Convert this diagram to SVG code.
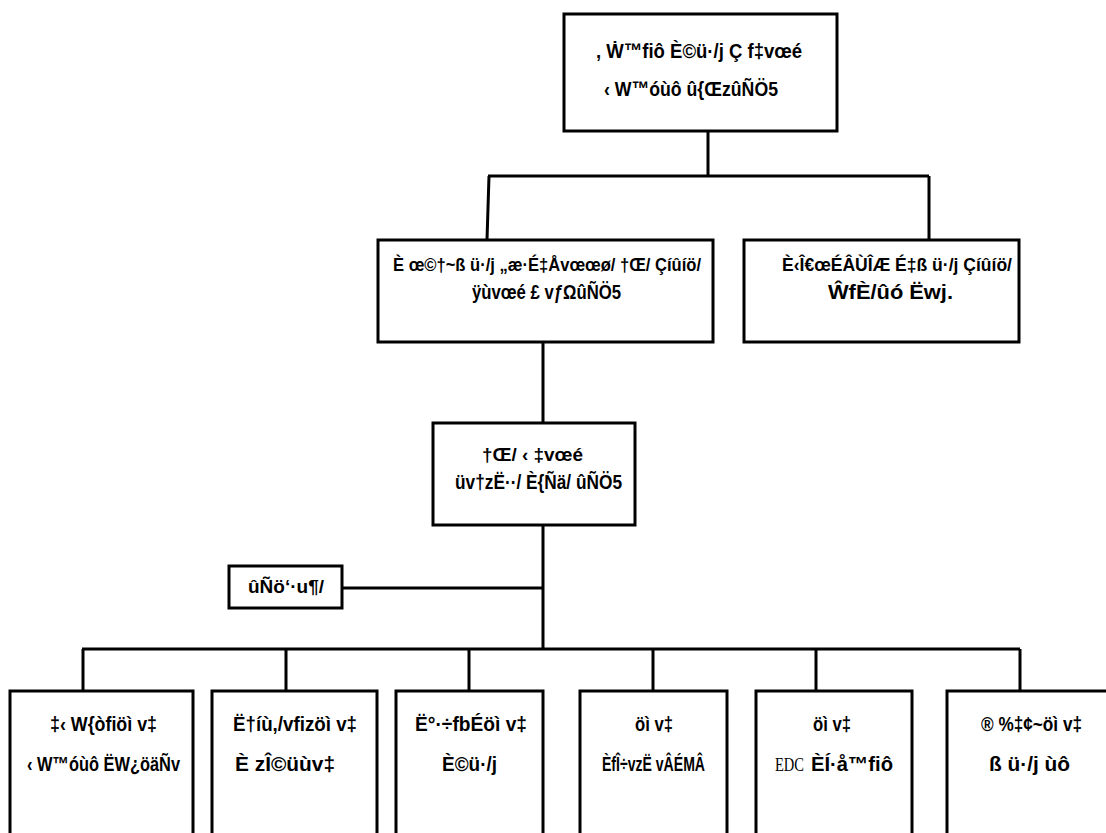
<svg xmlns="http://www.w3.org/2000/svg" width="1106" height="833" viewBox="0 0 1106 833">
<style>
.box{fill:#fff;stroke:#000;stroke-width:3}
.ln{fill:none;stroke:#000;stroke-width:3}
text.t{font-family:"Liberation Sans",Arial,sans-serif;font-weight:bold;fill:#000}
text.s{font-family:"Liberation Serif","Times New Roman",serif;fill:#000}
</style>
<rect width="1106" height="833" fill="#fff"/>
<g id="connectors">
<path class="ln" d="M708 131 V176 M488 176 H929 M489 176 L487 240 M929 176 V240"/>
<path class="ln" d="M543 342 V423 M543 525 V649 M343 588 H543"/>
<path class="ln" d="M82 649 H1020 M83 649 V691 M286 649 V691 M469 649 V691 M653 649 V691 M816 649 V691 M1020 649 V691"/>
</g>
<g id="n-top">
<rect class="box" x="564" y="14" width="273" height="117"/>
<text class="t" font-size="21" x="596" y="58" textLength="206" lengthAdjust="spacingAndGlyphs">, Ẇ™fiô È©ü·/j Ç f‡vœé</text>
<text class="t" font-size="21" x="604" y="96" textLength="174" lengthAdjust="spacingAndGlyphs">‹ W™óùô û{ŒzûÑÖ5</text>
</g>
<g id="n-midleft">
<rect class="box" x="378" y="240" width="335" height="102"/>
<text class="t" font-size="19" x="393" y="271" textLength="308" lengthAdjust="spacingAndGlyphs">È œ©†~ß ü·/j „æ·É‡Åvœœø/ †Œ/ Çíûíö/</text>
<text class="t" font-size="20" x="472" y="299" textLength="149" lengthAdjust="spacingAndGlyphs">ÿùvœé £ vƒΩûÑÖ5</text>
</g>
<g id="n-midright">
<rect class="box" x="744" y="240" width="275" height="102"/>
<text class="t" font-size="19" x="782" y="271" textLength="230" lengthAdjust="spacingAndGlyphs">È‹Î€œÉÂÙÎÆ É‡ß ü·/j Çíûíö/</text>
<text class="t" font-size="20" x="828" y="299" textLength="125" lengthAdjust="spacingAndGlyphs">ŴfÈ/ûó Ëwj.</text>
</g>
<g id="n-center">
<rect class="box" x="433" y="423" width="202" height="102"/>
<text class="t" font-size="19" x="482" y="461" textLength="101" lengthAdjust="spacingAndGlyphs">†Œ/ ‹ ‡vœé</text>
<text class="t" font-size="20" x="455" y="489" textLength="167" lengthAdjust="spacingAndGlyphs">üv†zË··/ È{Ñä/ ûÑÖ5</text>
</g>
<g id="n-side">
<rect class="box" x="229" y="566" width="113" height="42"/>
<text class="t" font-size="19" x="248" y="593" textLength="76" lengthAdjust="spacingAndGlyphs">ûÑö‘·u¶/</text>
</g>
<g id="n-b1">
<rect class="box" x="10" y="691" width="183" height="170"/>
<text class="t" font-size="20" x="50" y="731" textLength="107" lengthAdjust="spacingAndGlyphs">‡‹ W{òfiöì v‡</text>
<text class="t" font-size="20" x="27" y="771" textLength="153" lengthAdjust="spacingAndGlyphs">‹ W™óùô ËW¿öäÑv</text>
</g>
<g id="n-b2">
<rect class="box" x="212" y="691" width="165" height="170"/>
<text class="t" font-size="20" x="233" y="731" textLength="124" lengthAdjust="spacingAndGlyphs">Ë†íù,/vfizöì v‡</text>
<text class="t" font-size="20" x="235" y="771" textLength="100" lengthAdjust="spacingAndGlyphs">È zÎ©üùv‡</text>
</g>
<g id="n-b3">
<rect class="box" x="396" y="691" width="147" height="170"/>
<text class="t" font-size="20" x="415" y="731" textLength="112" lengthAdjust="spacingAndGlyphs">Ë°·÷fbÉöì v‡</text>
<text class="t" font-size="20" x="442" y="771" textLength="55" lengthAdjust="spacingAndGlyphs">È©ü·/j</text>
</g>
<g id="n-b4">
<rect class="box" x="580" y="691" width="147" height="170"/>
<text class="t" font-size="20" x="635" y="731" textLength="38" lengthAdjust="spacingAndGlyphs">öì v‡</text>
<text class="t" font-size="20" x="602" y="771" textLength="103" lengthAdjust="spacingAndGlyphs">ÈfÎ÷vzË vÂÉMÂ</text>
</g>
<g id="n-b5">
<rect class="box" x="756" y="691" width="156" height="170"/>
<text class="t" font-size="20" x="813" y="731" textLength="38" lengthAdjust="spacingAndGlyphs">öì v‡</text>
<text class="s" font-size="18" x="775" y="771" textLength="29" lengthAdjust="spacingAndGlyphs">EDC</text>
<text class="t" font-size="20" x="811" y="771" textLength="82" lengthAdjust="spacingAndGlyphs">ÈÍ·å™fiô</text>
</g>
<g id="n-b6">
<rect class="box" x="947" y="691" width="180" height="170"/>
<text class="t" font-size="20" x="981" y="731" textLength="101" lengthAdjust="spacingAndGlyphs">® %‡¢~öì v‡</text>
<text class="t" font-size="20" x="989" y="771" textLength="81" lengthAdjust="spacingAndGlyphs">ß ü·/j ùô</text>
</g>
</svg>
